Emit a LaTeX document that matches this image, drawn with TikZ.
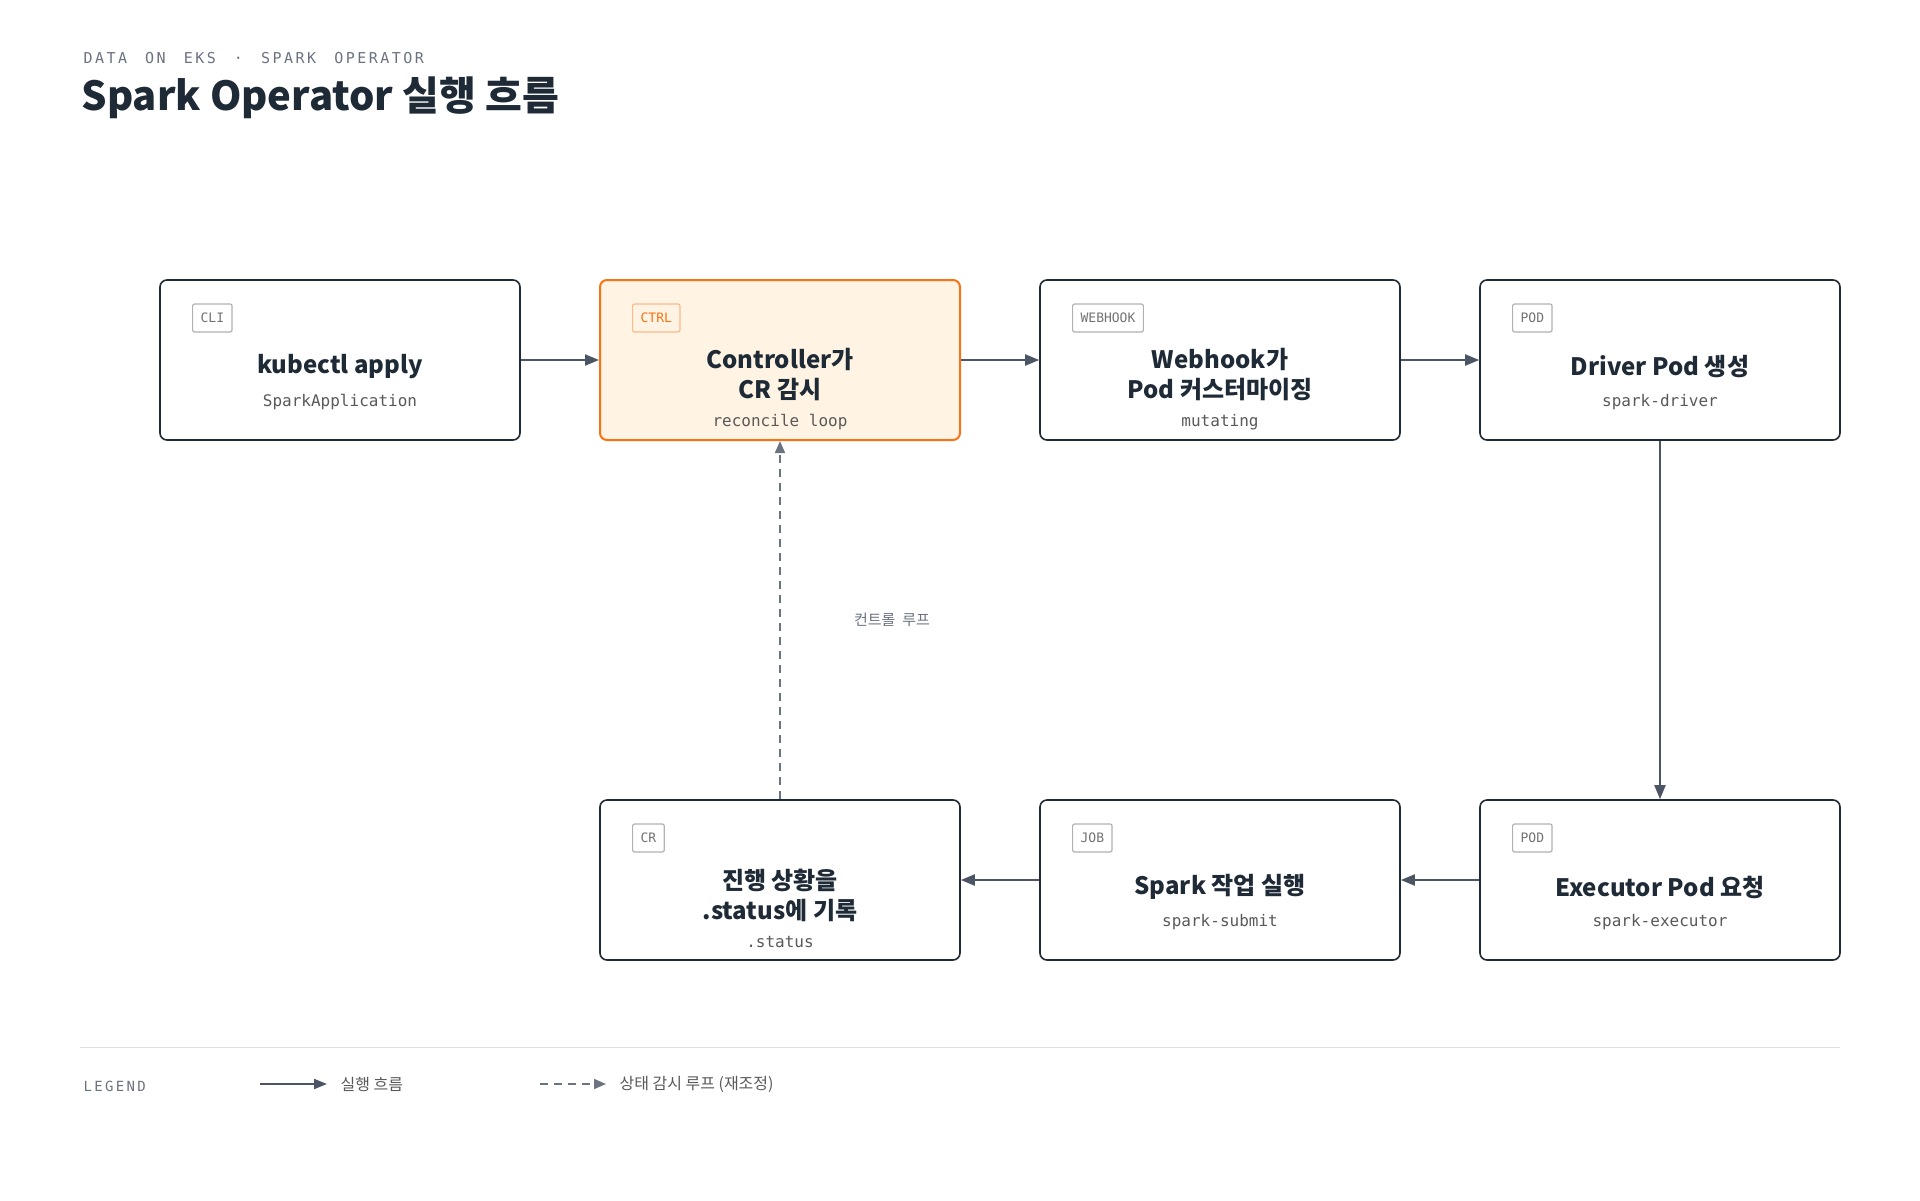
\documentclass[tikz,border=0pt]{standalone}
\usepackage{fontspec}
\setmainfont{Noto Sans CJK KR}
\newfontfamily\kr{Noto Sans CJK KR}
\newfontfamily\mono{DejaVu Sans Mono}
\usetikzlibrary{arrows.meta}
\definecolor{ink}{HTML}{1F2A37}
\definecolor{edge}{HTML}{4B5563}
\definecolor{gry}{HTML}{6B7280}
\definecolor{org}{HTML}{F97316}
\definecolor{orgf}{HTML}{FFF4E3}
\begin{document}
\begin{tikzpicture}[x=1pt,y=-1pt,
 box/.style={draw=ink,line width=1.6pt,rounded corners=7pt,fill=white,minimum width=360pt,minimum height=160pt,inner sep=0},
 hot/.style={box,draw=org,fill=orgf,line width=2pt},
 badge/.style={draw=gray!60,line width=1.2pt,rounded corners=2pt,minimum height=28pt,inner xsep=8pt,inner ysep=0,font=\mono\fontsize{13}{13}\selectfont,text=gray!90!black,anchor=west},
 hbadge/.style={badge,draw=org!50,text=org},
 ttl/.style={font=\kr\bfseries\fontsize{24}{30}\selectfont,text=ink,align=center},
 sub/.style={font=\mono\fontsize{16}{16}\selectfont,text=gray!70!black},
 arr/.style={draw=edge,line width=2pt,-{Triangle[length=14pt,width=11pt]}},
 darr/.style={draw=gry,line width=1.6pt,dash pattern=on 8pt off 6pt,-{Triangle[length=12pt,width=10pt]}}]
\useasboundingbox (0,0) rectangle (1920,1200);
\node[anchor=west,font=\mono\fontsize{15}{15}\selectfont,text=gry] (kick) at (80,58) {D\,A\,T\,A\ \ O\,N\ \ E\,K\,S\ \ ·\ \ S\,P\,A\,R\,K\ \ O\,P\,E\,R\,A\,T\,O\,R};
\node[anchor=west,font=\kr\bfseries\fontsize{40}{40}\selectfont,text=ink] (title) at (78,98) {Spark Operator 실행 흐름};

\node[box] (b1) at (340,360) {};
\node[hot] (b2) at (780,360) {};
\node[box] (b3) at (1220,360) {};
\node[box] (b4) at (1660,360) {};
\node[box] (b5) at (1660,880) {};
\node[box] (b6) at (1220,880) {};
\node[box] (b7) at (780,880) {};

\node[badge] (g1) at (192,318) {CLI};
\node[hbadge] (g2) at (632,318) {CTRL};
\node[badge] (g3) at (1072,318) {WEBHOOK};
\node[badge] (g4) at (1512,318) {POD};
\node[badge] (g5) at (1512,838) {POD};
\node[badge] (g6) at (1072,838) {JOB};
\node[badge] (g7) at (632,838) {CR};

\node[ttl] (t1) at (340,367) {kubectl apply};
\node[sub] (s1) at (340,402) {SparkApplication};
\node[ttl] (t2) at (780,375) {Controller가\\CR 감시};
\node[sub] (s2) at (780,422) {reconcile loop};
\node[ttl] (t3) at (1220,375) {Webhook가\\Pod 커스터마이징};
\node[sub] (s3) at (1220,422) {mutating};
\node[ttl] (t4) at (1660,367) {Driver Pod 생성};
\node[sub] (s4) at (1660,402) {spark-driver};
\node[ttl] (t5) at (1660,887) {Executor Pod 요청};
\node[sub] (s5) at (1660,922) {spark-executor};
\node[ttl] (t6) at (1220,887) {Spark 작업 실행};
\node[sub] (s6) at (1220,922) {spark-submit};
\node[ttl] (t7) at (780,895) {진행 상황을\\.status에 기록};
\node[sub] (s7) at (780,942) {.status};

\draw[arr] (b1) -- (b2);
\draw[arr] (b2) -- (b3);
\draw[arr] (b3) -- (b4);
\draw[arr] (b4) -- (b5);
\draw[arr] (b5) -- (b6);
\draw[arr] (b6) -- (b7);
\draw[darr] (b7) -- (b2);
\node[font=\kr\fontsize{15}{15}\selectfont,text=gry] (lp) at (892,620) {컨트롤\ \ 루프};

\coordinate (l0) at (80,1047); \coordinate (l1) at (1840,1047);
\draw[gray!25,line width=1pt] (l0) -- (l1);
\node[anchor=west,font=\mono\fontsize{14}{14}\selectfont,text=gry] (lg) at (80,1086) {L\,E\,G\,E\,N\,D};
\coordinate (a0) at (260,1084); \coordinate (a1) at (327,1084);
\draw[arr,line width=2pt,-{Triangle[length=13pt,width=10pt]}] (a0) -- (a1);
\node[anchor=west,font=\kr\fontsize{16}{16}\selectfont,text=gray!70!black] (lt1) at (337,1084) {실행\ 흐름};
\coordinate (d0) at (540,1084); \coordinate (d1) at (606,1084);
\draw[darr] (d0) -- (d1);
\node[anchor=west,font=\kr\fontsize{16}{16}\selectfont,text=gray!70!black] (lt2) at (616,1084) {상태\ 감시\ 루프\ (재조정)};
\end{tikzpicture}
\end{document}
